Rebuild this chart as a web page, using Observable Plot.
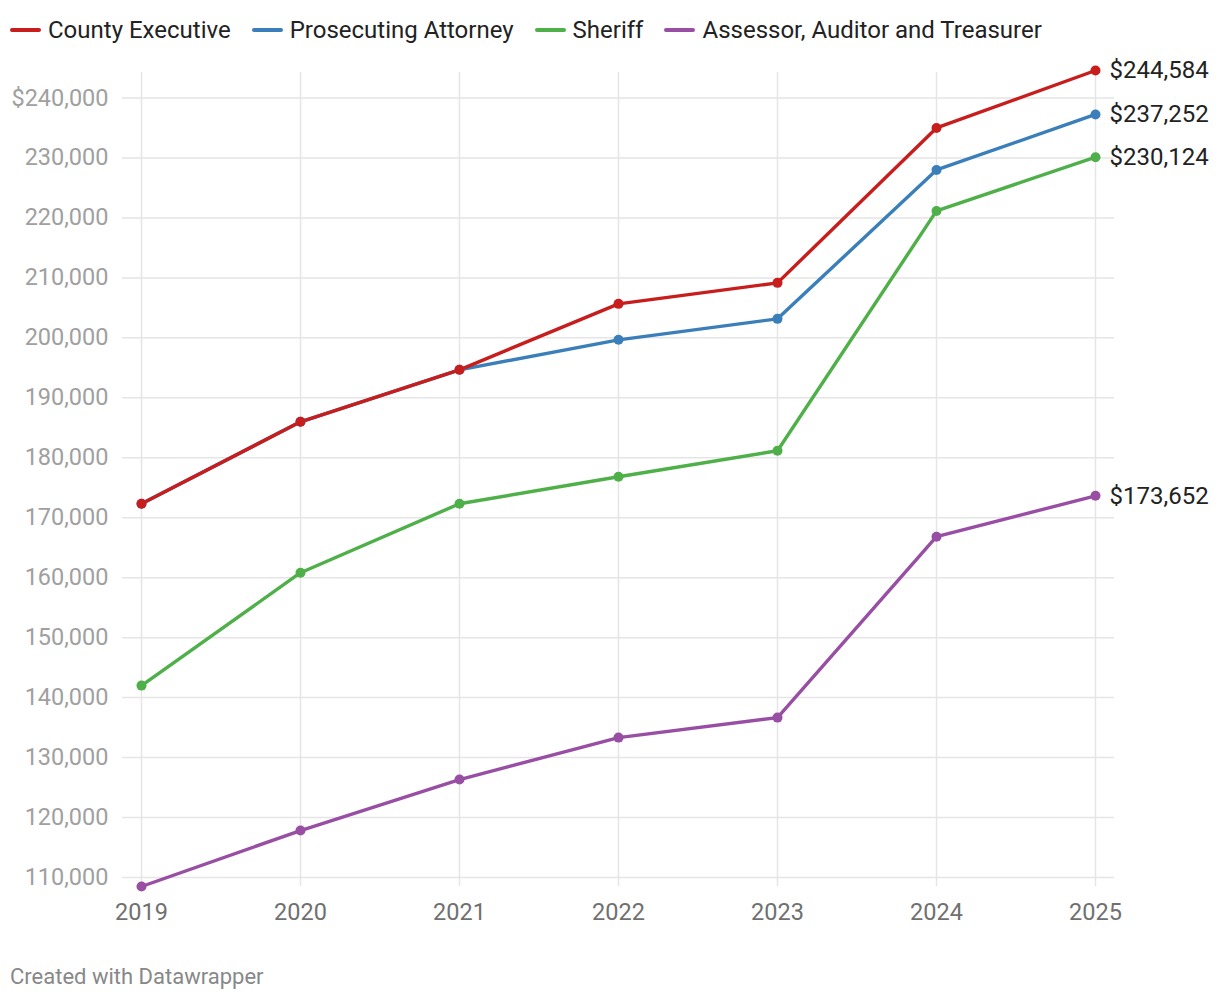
<!DOCTYPE html>
<html>
<head>
<meta charset="utf-8">
<script src="https://cdn.jsdelivr.net/npm/d3@7"></script>
<script src="https://cdn.jsdelivr.net/npm/@observablehq/plot@0.6"></script>
<style>
  body { margin: 0; background: #fff; font-family: Roboto, sans-serif; }
  #legend { height: 60px; box-sizing: border-box; padding: 10px 0 0 10px; font-size: 24px; color: #222; white-space: nowrap; }
  #legend span.item { margin-right: 21px; display: inline-flex; align-items: center; }
  #legend span.sw { display: inline-block; width: 31px; height: 4px; border-radius: 2px; margin-right: 7px; }
  #footer { padding: 14px 0 0 10px; font-size: 22px; color: #888; }
</style>
</head>
<body>
<div id="legend"></div>
<div id="chart"></div>
<div id="footer">Created with Datawrapper</div>
<script>
const years = [2019, 2020, 2021, 2022, 2023, 2024, 2025];
const seriesNames = ["County Executive", "Prosecuting Attorney", "Sheriff", "Assessor, Auditor and Treasurer"];
const seriesColors = ["#c71e1d", "#3a7fb9", "#4fb04a", "#984ea3"];
const countyExecutive = [172333, 186000, 194667, 205667, 209167, 235000, 244584];
const prosecutingAttorney = [172333, 186000, 194667, 199667, 203167, 228000, 237252];
const sheriff = [142000, 160833, 172333, 176833, 181167, 221167, 230124];
const assessor = [108500, 117833, 126333, 133333, 136667, 166833, 173652];
const yTicks = [110000, 120000, 130000, 140000, 150000, 160000, 170000, 180000, 190000, 200000, 210000, 220000, 230000, 240000];

const seriesValues = [countyExecutive, prosecutingAttorney, sheriff, assessor];
const data = [];
seriesNames.forEach((name, i) => years.forEach((yr, j) => data.push({series: name, year: yr, value: seriesValues[i][j]})));
const last = data.filter(d => d.year === years[years.length - 1]);
const order = [3, 2, 1, 0].map(i => seriesNames[i]);
const ordered = order.flatMap(n => data.filter(d => d.series === n));

const legend = document.getElementById("legend");
seriesNames.forEach((n, i) => {
  const s = document.createElement("span");
  s.className = "item";
  s.innerHTML = `<span class="sw" style="background:${seriesColors[i]}"></span>${n}`;
  legend.appendChild(s);
});

const fmt = d3.format(",");
const yFmt = d => (d === yTicks[yTicks.length - 1] ? "$" : "") + fmt(d);
const chart = Plot.plot({
  width: 1220,
  height: 890,
  marginTop: 10,
  marginBottom: 64,
  marginLeft: 122,
  marginRight: 106,
  style: {fontFamily: "Roboto, sans-serif", fontSize: "23px", overflow: "visible"},
  x: {domain: [years[0], years[years.length - 1]], inset: 19, ticks: years, tickFormat: d => String(d), label: null},
  y: {domain: [d3.min(assessor), d3.max(countyExecutive)], ticks: yTicks, tickFormat: yFmt, label: null},
  color: {domain: seriesNames, range: seriesColors},
  marks: [
    Plot.ruleY(yTicks, {stroke: "#e5e5e5", strokeWidth: 1.5}),
    Plot.ruleX(years, {stroke: "#e5e5e5", strokeWidth: 1.5, y1: d3.min(assessor), y2: d3.max(countyExecutive), insetBottom: -2}),
    Plot.axisY({ticks: yTicks, tickSize: 0, tickPadding: 14, tickFormat: yFmt, fill: "#a0a0a0", fontSize: 23.5, label: null}),
    Plot.axisX({ticks: years, tickSize: 0, tickPadding: 17, tickFormat: d => String(d), fill: "#707070", fontSize: 23.5, label: null}),
    Plot.line(ordered, {x: "year", y: "value", z: "series", stroke: "series", strokeWidth: 3.4, curve: "linear"}),
    Plot.dot(ordered, {x: "year", y: "value", fill: "series", r: 5}),
    Plot.text(last, {x: "year", y: "value", text: d => "$" + fmt(d.value), textAnchor: "start", dx: 14, fill: "#222", fontSize: 24})
  ]
});
document.getElementById("chart").appendChild(chart);
</script>
</body>
</html>
